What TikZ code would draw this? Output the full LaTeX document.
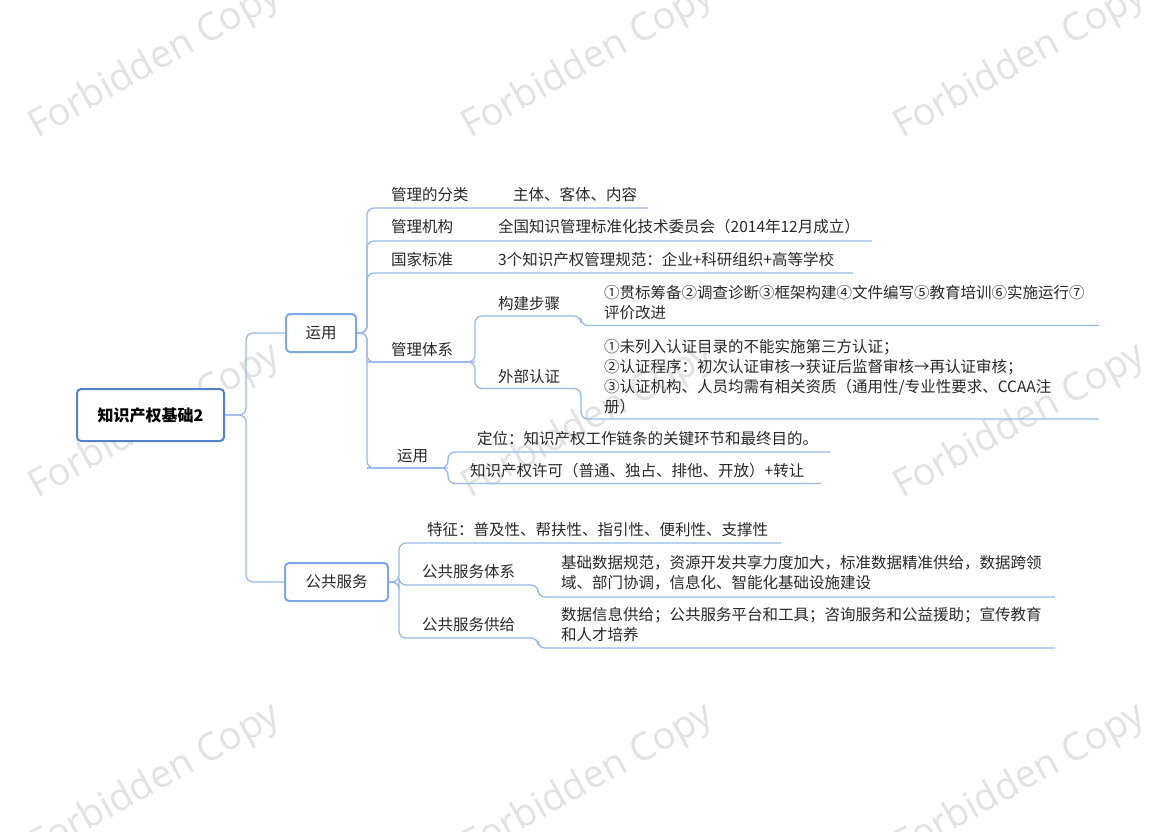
\documentclass[tikz,border=0pt]{standalone}
\usepackage{fontspec}
\setmainfont{Noto Sans CJK SC}
\newfontfamily\wmfont{Open Sans}
\definecolor{rootc}{RGB}{84,130,200}
\definecolor{boxc}{RGB}{125,168,226}
\definecolor{linec}{RGB}{150,186,234}
\definecolor{txt}{RGB}{40,40,40}
\definecolor{wmc}{RGB}{226,226,226}
\begin{document}
\begin{tikzpicture}[x=1pt,y=-1pt,
  lbl/.style={font=\fontsize{15.5}{20}\selectfont, text=txt, inner sep=0pt, anchor=west, align=left},
  rootbox/.style={draw=rootc, line width=2pt, rounded corners=4pt, fill=white, text=black, font=\fontsize{16}{20}\selectfont\bfseries, minimum width=147pt, minimum height=52pt, inner sep=0pt},
  topicbox/.style={draw=boxc, line width=2pt, rounded corners=4pt, fill=white, text=txt, font=\fontsize{15.5}{20}\selectfont, minimum height=38pt, inner sep=0pt},
  conn/.style={draw=linec, line width=1.3pt, rounded corners=7pt},
  wm/.style={text=wmc, font=\fontsize{38}{40}\wmfont, rotate=29, inner sep=0pt}
]
\fill[white] (0,0) rectangle (1175,831);
\useasboundingbox (0,0) rectangle (1175,831);

% watermarks
\foreach \wx/\wy [count=\i] in {155/62, 588/62, 1020/62, 155/422, 588/422, 1020/422, 155/782, 588/782, 1020/782}
  \node[wm] (wm\i) at (\wx,\wy) {Forbidden Copy};

% main nodes
\node[rootbox] (root) at (150.5,415) {知识产权基础2};
\node[topicbox, minimum width=70pt] (yy) at (321,333) {运用};
\node[topicbox, minimum width=103pt] (gg) at (336.5,582) {公共服务};

% trunk coordinates
\coordinate (t0) at (246,415);
\coordinate (t1) at (367,333);
\coordinate (t2) at (399,582);
\coordinate (t3) at (475,362);
\coordinate (t4) at (448,468);

% level-2 labels under 运用
\node[lbl] (a1) at (391,195) {管理的分类};
\node[lbl] (a2) at (391,227) {管理机构};
\node[lbl] (a3) at (391,260) {国家标准};
\node[lbl] (a4) at (391,350) {管理体系};
\node[lbl] (a5) at (397,456) {运用};

\node[lbl] (b1) at (513,195) {主体、客体、内容};
\node[lbl] (b2) at (498,227) {全国知识管理标准化技术委员会（2014年12月成立）};
\node[lbl] (b3) at (498,260) {3个知识产权管理规范：企业+科研组织+高等学校};
\node[lbl] (b4) at (498,304) {构建步骤};
\node[lbl] (b5) at (498,377) {外部认证};
\node[lbl] (b6) at (477,439) {定位：知识产权工作链条的关键环节和最终目的。};
\node[lbl] (b7) at (470,471) {知识产权许可（普通、独占、排他、开放）+转让};

\node[lbl] (c1) at (604,303) {①贯标筹备②调查诊断③框架构建④文件编写⑤教育培训⑥实施运行⑦\\评价改进};
\node[lbl] (c2) at (604,376.5) {①未列入认证目录的不能实施第三方认证；\\②认证程序：初次认证审核→获证后监督审核→再认证审核；\\③认证机构、人员均需有相关资质（通用性/专业性要求、CCAA注\\册）};

% level-2 labels under 公共服务
\node[lbl] (d1) at (427,530) {特征：普及性、帮扶性、指引性、便利性、支撑性};
\node[lbl] (d2) at (422,572) {公共服务体系};
\node[lbl] (d3) at (422,625) {公共服务供给};
\node[lbl] (e1) at (561,573) {基础数据规范，资源开发共享力度加大，标准数据精准供给，数据跨领\\域、部门协调，信息化、智能化基础设施建设};
\node[lbl] (e2) at (561,625) {数据信息供给；公共服务平台和工具；咨询服务和公益援助；宣传教育\\和人才培养};

% connectors root -> topics
\draw[conn] (root.east) -- (t0) -- (246,333) -- (yy.west);
\draw[conn] (root.east) -- (t0) -- (246,582) -- (gg.west);

% 运用 branches
\draw[conn] (yy.east) -- (t1) -- (367,208) -- (648,208);
\draw[conn] (yy.east) -- (t1) -- (367,241) -- (872,241);
\draw[conn] (yy.east) -- (t1) -- (367,273) -- (853,273);
\draw[conn] (yy.east) -- (t1) -- (367,362) -- (t3);
\draw[conn] (yy.east) -- (t1) -- (367,468) -- (t4);

% 管理体系 sub-branches
\draw[conn] (367,362) -- (t3) -- (475,316) -- (581,316) -- (581,325.5) -- (1099,325.5);
\draw[conn] (367,362) -- (t3) -- (475,388.5) -- (581,388.5) -- (581,419) -- (1099,419);

% 运用 (sub) branches
\draw[conn] (367,468) -- (t4) -- (448,452) -- (830,452);
\draw[conn] (367,468) -- (t4) -- (448,483.5) -- (821,483.5);

% 公共服务 branches
\draw[conn] (gg.east) -- (t2) -- (399,543) -- (781,543);
\draw[conn] (gg.east) -- (t2) -- (399,585) -- (538,585) -- (538,597) -- (1055,597);
\draw[conn] (gg.east) -- (t2) -- (399,638) -- (538,638) -- (538,648) -- (1055,648);
\end{tikzpicture}
\end{document}
